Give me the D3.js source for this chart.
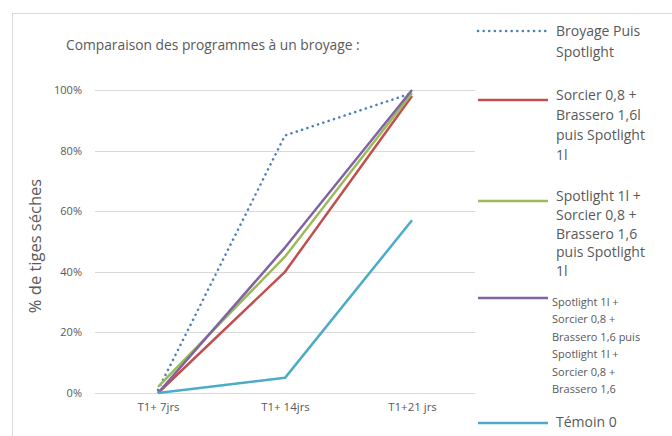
<!DOCTYPE html>
<html><head><meta charset="utf-8">
<script src="https://cdn.jsdelivr.net/npm/d3@7/dist/d3.min.js"></script>
<style>body{margin:0;background:#fff}svg{display:block}text{font-family:"Open Sans","Noto Sans",sans-serif}</style>
</head><body>
<script>
const categories = ["T1+ 7jrs", "T1+ 14jrs", "T1+21 jrs"];
const yTicks = [0, 0.2, 0.4, 0.6, 0.8, 1.0];
const seriesNames = [
  ["Broyage Puis", "Spotlight"],
  ["Sorcier 0,8 +", "Brassero 1,6l", "puis Spotlight", "1l"],
  ["Spotlight 1l +", "Sorcier 0,8 +", "Brassero 1,6", "puis Spotlight", "1l"],
  ["Spotlight 1l +", "Sorcier 0,8 +", "Brassero 1,6 puis", "Spotlight 1l +", "Sorcier 0,8 +", "Brassero 1,6"],
  ["Témoin 0"]
];
const broyage = [0.01, 0.85, 0.99];
const sorcier = [0.00, 0.40, 0.98];
const spotlight = [0.02, 0.45, 0.99];
const spotlight2 = [0.00, 0.48, 1.00];
const temoin = [0.00, 0.05, 0.57];
const colors = ["#4A7EBB", "#C0504D", "#9BBB59", "#8064A2", "#4BACC6"];
const values = [broyage, sorcier, spotlight, spotlight2, temoin];

const W = 672, H = 436;
const FONT = '"Open Sans","Noto Sans",sans-serif';
const svg = d3.select("body").append("svg").attr("width", W).attr("height", H);
svg.append("rect").attr("x", 12.5).attr("y", 13.5).attr("width", 700).attr("height", 500)
  .attr("fill", "none").attr("stroke", "#D9D9D9");

const x = d3.scalePoint().domain(categories).range([158, 412]);
const y = d3.scaleLinear().domain([0, 1]).range([393, 90]);

// gridlines
svg.append("g").selectAll("line").data(yTicks).join("line")
  .attr("x1", 95).attr("x2", 475).attr("y1", d => Math.round(y(d)) + 0.5).attr("y2", d => Math.round(y(d)) + 0.5)
  .attr("stroke", "#D9D9D9").attr("stroke-width", 1);

// y axis labels
const yAxis = d3.axisLeft(y).tickValues(yTicks).tickFormat(d3.format(".0%")).tickSize(0).tickPadding(0);
const ga = svg.append("g").attr("transform", "translate(82,0)").call(yAxis);
ga.select(".domain").remove();
ga.selectAll("text").attr("fill", "#595959").style("font-size", "11px").style("font-family", FONT);

// x axis labels
const xAxis = d3.axisBottom(x).tickSize(0).tickPadding(0);
const gx = svg.append("g").attr("transform", "translate(0,403)").call(xAxis);
gx.select(".domain").remove();
gx.selectAll("text").attr("fill", "#595959").style("font-size", "11.5px").style("font-family", FONT);

// title
svg.append("text").attr("x", 66).attr("y", 50).attr("fill", "#595959").style("font-size", "13.8px")
  .text("Comparaison des programmes à un broyage :");

// y title
svg.append("text").attr("transform", "translate(41,246) rotate(-90)").attr("text-anchor", "middle")
  .attr("fill", "#595959").style("font-size", "16.5px").text("% de tiges séches");

// lines
const line = d3.line().x((d, i) => x(categories[i])).y(d => y(d));
values.forEach((v, i) => {
  const p = svg.append("path").datum(v).attr("d", line).attr("fill", "none")
    .attr("stroke", colors[i]).attr("stroke-width", 2.5).attr("stroke-linejoin", "round");
  if (i === 0) p.attr("stroke-dasharray", "0.1,5.5").attr("stroke-linecap", "round");
});

// legend
const legendLineY = [31, 100, 201, 298, 423];
const legendTextY = [[31, 52], [95, 115, 135, 155], [196, 215, 234, 252, 271], [302, 319, 337, 354, 372, 389], [422]];
seriesNames.forEach((names, i) => {
  const l = svg.append("line").attr("x1", 478).attr("x2", 548).attr("y1", legendLineY[i]).attr("y2", legendLineY[i])
    .attr("stroke", colors[i]).attr("stroke-width", 2.5);
  if (i === 0) l.attr("stroke-dasharray", "0.1,5.5").attr("stroke-linecap", "round");
  const small = i === 3;
  names.forEach((t, j) => {
    svg.append("text").attr("x", small ? 552 : 556).attr("y", legendTextY[i][j]).attr("dy", "0.35em")
      .attr("fill", "#595959").style("font-size", small ? "11px" : "14px").text(t);
  });
});
</script>
</body></html>
